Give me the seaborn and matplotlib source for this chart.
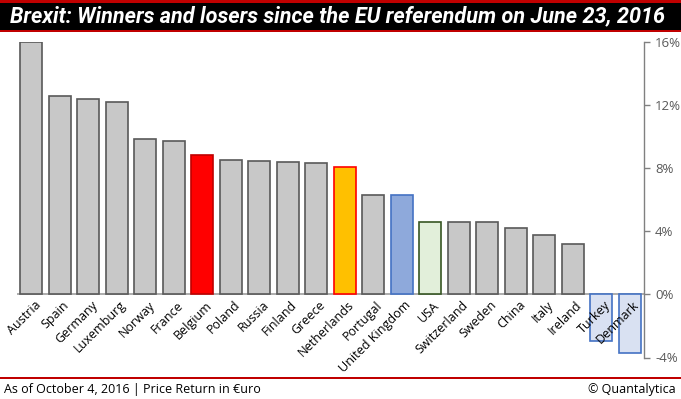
import matplotlib
matplotlib.use("Agg")
import matplotlib.pyplot as plt
import seaborn as sns
from matplotlib.patches import Rectangle
from matplotlib.ticker import FuncFormatter

sns.set_theme(style="white")
plt.rcParams['font.family'] = ['Open Sans', 'DejaVu Sans']

# data
countries = ['Austria', 'Spain', 'Germany', 'Luxemburg', 'Norway', 'France', 'Belgium',
             'Poland', 'Russia', 'Finland', 'Greece', 'Netherlands', 'Portugal',
             'United Kingdom', 'USA', 'Switzerland', 'Sweden', 'China', 'Italy',
             'Ireland', 'Turkey', 'Denmark']
returns = [16.0, 12.6, 12.4, 12.2, 9.85, 9.7, 8.85, 8.5, 8.45, 8.38, 8.32, 8.05,
           6.3, 6.3, 4.62, 4.58, 4.57, 4.2, 3.75, 3.2, -2.95, -3.7]
yticks = [-4, 0, 4, 8, 12, 16]

# highlight colours (fill, edge)
highlight = {
    'Belgium': ('#FF0000', '#C00000'),
    'Netherlands': ('#FFC000', '#FF0000'),
    'United Kingdom': ('#8EA9DB', '#4472C4'),
    'USA': ('#E2EFDA', '#375623'),
    'Turkey': ('#D9E1F2', '#4472C4'),
    'Denmark': ('#D9E1F2', '#4472C4'),
}
fills = [highlight.get(c, ('#C8C8C8', '#595959'))[0] for c in countries]
edges = [highlight.get(c, ('#C8C8C8', '#595959'))[1] for c in countries]

fig = plt.figure(figsize=(6.81, 3.99), dpi=100)
ax = fig.add_axes([17 / 681, 1 - 357.5 / 399, (644 - 17) / 681, (357.5 - 42) / 399])

sns.barplot(x=countries, y=returns, hue=countries, palette=fills, legend=False,
            width=0.76, ax=ax, saturation=1)
for patch, ec in zip(ax.patches, edges):
    patch.set_edgecolor(ec)
    patch.set_linewidth(1.2)

ax.axhline(0, color='#A6A6A6', lw=1.3, zorder=0.5)
ax.set_xlim(-0.5, len(countries) - 0.5)
ax.set_ylim(-4, 16)
ax.set_yticks(yticks)
ax.yaxis.tick_right()
ax.yaxis.set_major_formatter(FuncFormatter(lambda v, p: f"{v:.0f}%"))
ax.tick_params(axis='y', direction='out', length=4, width=1, color='#808080',
               labelcolor='#595959', labelsize=9.5, pad=4)
ax.set_xticks([])
ax.set_xlabel('')
for s in ['left', 'top', 'bottom']:
    ax.spines[s].set_visible(False)
ax.spines['right'].set_color('#808080')
ax.spines['right'].set_linewidth(1)

# rotated country labels hanging from the zero line
for i, c in enumerate(countries):
    ax.annotate(c, xy=(i, 0), xytext=(2, -3), textcoords='offset points',
                rotation=45, rotation_mode='anchor', ha='right', va='top',
                fontsize=9, color='black', zorder=5)

# title band
fig.patches.append(Rectangle((0, 1 - 32 / 399), 1, 32 / 399, transform=fig.transFigure,
                             facecolor='#C00000', edgecolor='none', zorder=0))
fig.patches.append(Rectangle((0, 1 - 30 / 399), 1, 27 / 399, transform=fig.transFigure,
                             facecolor='black', edgecolor='none', zorder=1))
fig.text(10 / 681, 1 - 16.5 / 399,
         'Brexit: Winners and losers since the EU referendum on June 23, 2016',
         color='white', fontsize=15.6, fontweight='bold', fontstyle='italic',
         ha='left', va='center', family=['Roboto', 'DejaVu Sans'])

# footer
fig.patches.append(Rectangle((0, 1 - 379 / 399), 1, 2 / 399, transform=fig.transFigure,
                             facecolor='#C00000', edgecolor='none'))
fig.text(4 / 681, 1 - 389 / 399, 'As of October 4, 2016 | Price Return in \u20acuro',
         fontsize=9, color='black', ha='left', va='center')
fig.text(676 / 681, 1 - 389 / 399, '\u00a9 Quantalytica',
         fontsize=9, color='black', ha='right', va='center')

fig.savefig('out.png', dpi=100)
